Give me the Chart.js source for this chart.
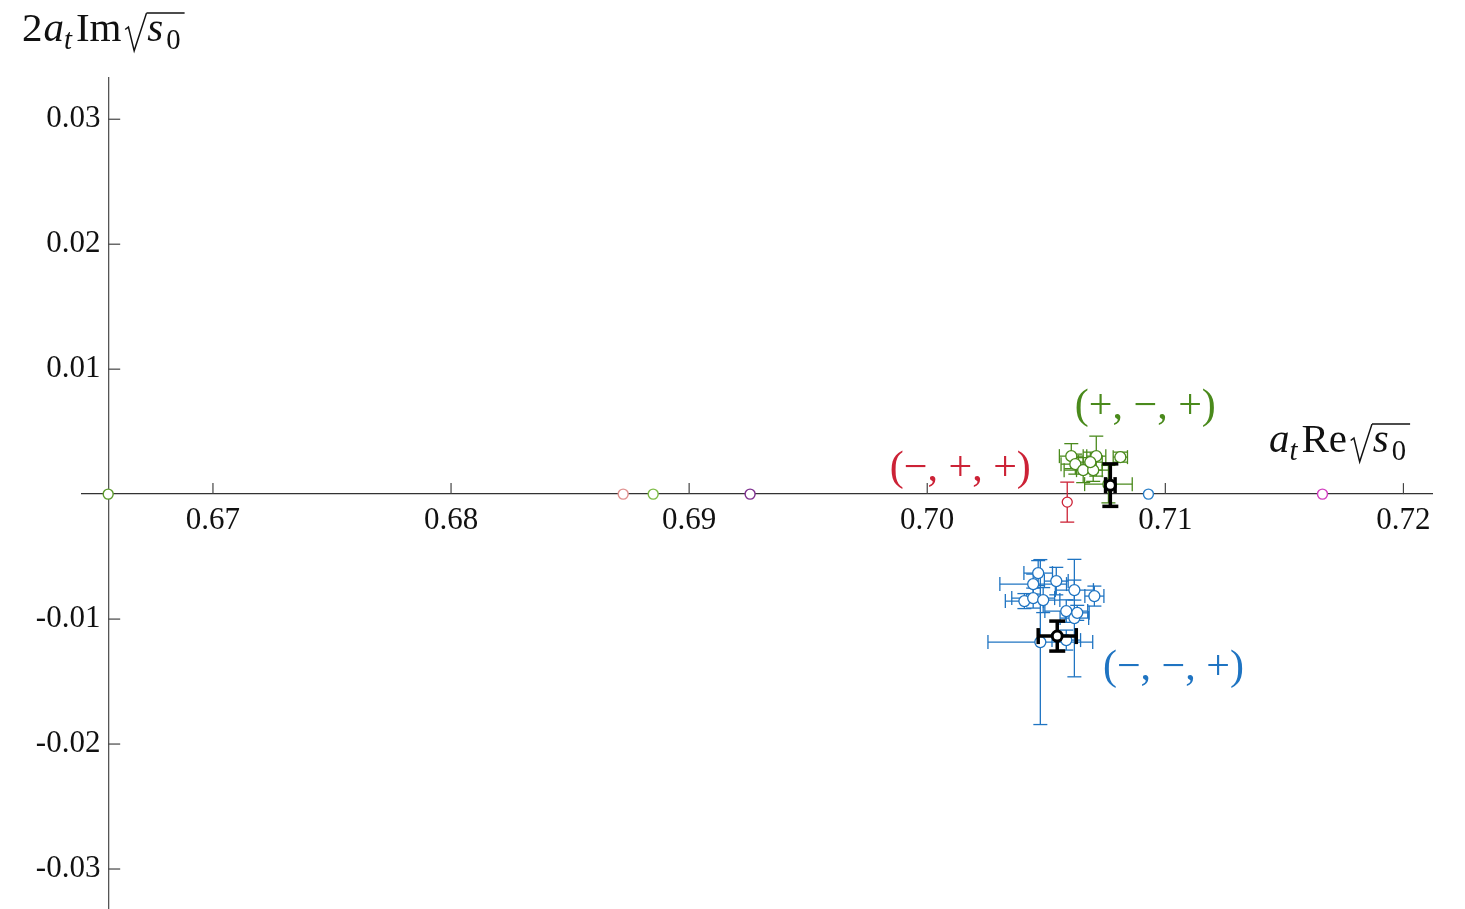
<!DOCTYPE html>
<html>
<head>
<meta charset="utf-8">
<script src="https://cdn.jsdelivr.net/npm/chart.js@4.4.1/dist/chart.umd.min.js"></script>
<style>
    html, body { margin: 0; padding: 0; background: #fff; overflow: hidden; }
    #caixa { width: 1465px; height: 909px; position: relative; }
</style>
</head>
<body>
<div id="caixa"><canvas id="grafico"></canvas></div>
<script>
const ticksX = [0.67, 0.68, 0.69, 0.70, 0.71, 0.72];
const ticksY = [-0.03, -0.02, -0.01, 0.01, 0.02, 0.03];

// (-,-,+) pontos azuis
const azulX = [0.70466, 0.70445, 0.70542, 0.70618, 0.70702, 0.70408, 0.70445, 0.70487, 0.70584, 0.70618, 0.70475, 0.70584, 0.70630];
const azulY = [-0.00632, -0.00720, -0.00696, -0.00768, -0.00816, -0.00856, -0.00832, -0.00848, -0.00936, -0.00992, -0.01184, -0.01168, -0.00950];
const azulErroX = [0.0006, 0.0014, 0.0005, 0.0008, 0.0004, 0.0008, 0.0009, 0.0007, 0.0009, 0.0006, 0.0022, 0.0006, 0.0005];
const azulErroY = [0.0010, 0.0008, 0.0011, 0.0008, 0.0008, 0.0006, 0.0008, 0.0010, 0.0009, 0.0047, 0.0066, 0.0008, 0.0006];

// (+,-,+) pontos verdes
const verdeX = [0.70605, 0.70622, 0.70655, 0.70697, 0.70710, 0.70811, 0.70685, 0.70761];
const verdeY = [0.00304, 0.00240, 0.00192, 0.00192, 0.00304, 0.00296, 0.00256, 0.00080];
const verdeErroX = [0.0005, 0.0006, 0.0008, 0.0007, 0.0004, 0.0003, 0.0005, 0.0010];
const verdeErroY = [0.0010, 0.0008, 0.0010, 0.0009, 0.0016, 0.0004, 0.0008, 0.0015];

// (-,+,+) ponto vermelho
const vermelhoX = [0.70588];
const vermelhoY = [-0.00064];
const vermelhoErroY = [0.0016];

// medias (pretos)
const mediaX = [0.70769, 0.70546];
const mediaY = [0.00072, -0.01136];
const mediaErroX = [0.0002, 0.0008];
const mediaErroY = [0.0017, 0.0012];

// pontos sobre o eixo real
const eixoX = [0.6656, 0.68723, 0.68849, 0.69256, 0.70929, 0.71660];
const eixoY = [0, 0, 0, 0, 0, 0];
const eixoCores = ['#5c9a2c', '#e0918f', '#7dbb45', '#7e2f8e', '#2a7fc8', '#d23fc0'];

const VERDE = '#4a8a1c';
const AZUL = '#1f74c2';
const VERMELHO = '#cc2236';
const FONTE = '"Liberation Serif", "Times New Roman", serif';

function pares(xs, ys) {
    return xs.map((v, i) => ({ x: v, y: ys[i] }));
}

const barrasDeErro = {
    id: 'barrasDeErro',
    beforeDatasetDraw(chart, args) {
        const ds = chart.data.datasets[args.index];
        if (!ds.erroX && !ds.erroY) return;
        const ctx = chart.ctx;
        const x = chart.scales.x, y = chart.scales.y;
        const cap = ds.tampa;
        ctx.save();
        ctx.strokeStyle = ds.corBarra;
        ctx.lineWidth = ds.larguraBarra;
        ctx.lineCap = 'butt';
        const linha = (a, b, c, d) => { ctx.beginPath(); ctx.moveTo(a, b); ctx.lineTo(c, d); ctx.stroke(); };
        ds.data.forEach((p, i) => {
            const px = x.getPixelForValue(p.x), py = y.getPixelForValue(p.y);
            const ey = ds.erroY ? ds.erroY[i] : 0;
            const ex = ds.erroX ? ds.erroX[i] : 0;
            if (ey) {
                const y1 = y.getPixelForValue(p.y + ey), y2 = y.getPixelForValue(p.y - ey);
                linha(px, y1, px, y2);
                linha(px - cap, y1, px + cap, y1);
                linha(px - cap, y2, px + cap, y2);
            }
            if (ex) {
                const x1 = x.getPixelForValue(p.x - ex), x2 = x.getPixelForValue(p.x + ex);
                linha(x1, py, x2, py);
                linha(x1, py - cap, x1, py + cap);
                linha(x2, py - cap, x2, py + cap);
            }
        });
        ctx.restore();
    }
};

function escreverFormula(ctx, partes, x, y, tam) {
    let cx = x;
    let inicioRaiz = null;
    ctx.fillStyle = '#111';
    ctx.strokeStyle = '#111';
    ctx.textBaseline = 'alphabetic';
    ctx.textAlign = 'left';
    partes.forEach(p => {
        if (p.raiz) {
            ctx.save();
            ctx.lineWidth = 1.5;
            ctx.lineJoin = 'miter';
            ctx.beginPath();
            ctx.moveTo(cx + 0.04 * tam, y - 0.28 * tam);
            ctx.lineTo(cx + 0.12 * tam, y - 0.34 * tam);
            ctx.lineTo(cx + 0.26 * tam, y + 0.24 * tam);
            ctx.lineTo(cx + 0.56 * tam, y - 0.68 * tam);
            ctx.stroke();
            ctx.restore();
            inicioRaiz = cx + 0.56 * tam;
            cx += 0.58 * tam;
            return;
        }
        const t = p.sub ? tam * 0.7 : tam;
        ctx.font = (p.it ? 'italic ' : '') + t + 'px ' + FONTE;
        const dy = p.sub ? tam * 0.2 : 0;
        cx += (p.antes || 0);
        ctx.fillText(p.t, cx, y + dy);
        cx += ctx.measureText(p.t).width + (p.esp || 0);
    });
    if (inicioRaiz !== null) {
        ctx.save();
        ctx.lineWidth = 1.5;
        ctx.beginPath();
        ctx.moveTo(inicioRaiz, y - 0.68 * tam);
        ctx.lineTo(cx + 4, y - 0.68 * tam);
        ctx.stroke();
        ctx.restore();
    }
}

const extras = {
    id: 'extras',
    beforeDatasetsDraw(chart) {
        const ctx = chart.ctx;
        const x = chart.scales.x, y = chart.scales.y;
        const x0 = x.getPixelForValue(eixoX[0]);
        const y0 = y.getPixelForValue(0);
        ctx.save();
        ctx.strokeStyle = '#444';
        ctx.lineWidth = 1.2;
        ticksX.forEach(v => {
            const px = x.getPixelForValue(v);
            ctx.beginPath(); ctx.moveTo(px, y0); ctx.lineTo(px, y0 - 11); ctx.stroke();
        });
        ticksY.forEach(v => {
            const py = y.getPixelForValue(v);
            ctx.beginPath(); ctx.moveTo(x0, py); ctx.lineTo(x0 + 12, py); ctx.stroke();
        });
        ctx.restore();
    },
    afterDraw(chart) {
        const ctx = chart.ctx;
        const x = chart.scales.x, y = chart.scales.y;
        ctx.save();
        escreverFormula(ctx, [
            { t: '2' }, { t: 'a', it: true, antes: 1 }, { t: 't', it: true, sub: true, esp: 4 },
            { t: 'Im', esp: 2 }, { raiz: true }, { t: 's', it: true }, { t: '0', sub: true, antes: 3 }
        ], 22, 41, 41);
        escreverFormula(ctx, [
            { t: 'a', it: true }, { t: 't', it: true, sub: true, esp: 4 },
            { t: 'Re', esp: 2 }, { raiz: true }, { t: 's', it: true }, { t: '0', sub: true, antes: 3 }
        ], 1269, 452, 41);

        ctx.font = '42px ' + FONTE;
        ctx.textAlign = 'center';
        ctx.textBaseline = 'middle';
        ctx.fillStyle = VERDE;
        ctx.fillText('(+, \u2212, +)', x.getPixelForValue(0.70916), y.getPixelForValue(0.00696));
        ctx.fillStyle = VERMELHO;
        ctx.fillText('(\u2212, +, +)', x.getPixelForValue(0.70139), y.getPixelForValue(0.00200));
        ctx.fillStyle = AZUL;
        ctx.fillText('(\u2212, \u2212, +)', x.getPixelForValue(0.71034), y.getPixelForValue(-0.01392));
        ctx.restore();
    }
};

function semPadding(s) {
    s.paddingTop = 0;
    s.paddingBottom = 0;
    s.paddingLeft = 0;
    s.paddingRight = 0;
}

const ctx = document.querySelector('#grafico');

const grafico = new Chart(ctx, {
    type: 'scatter',
    data: {
        datasets: [
            {
                label: 'media',
                data: pares(mediaX, mediaY),
                erroX: mediaErroX, erroY: mediaErroY,
                corBarra: '#000', larguraBarra: 3.5, tampa: 8,
                pointRadius: 5, borderWidth: 3,
                borderColor: '#000', backgroundColor: '#fff',
                order: 0
            },
            {
                label: 'vermelho',
                data: pares(vermelhoX, vermelhoY),
                erroY: vermelhoErroY,
                corBarra: VERMELHO, larguraBarra: 1.3, tampa: 7,
                pointRadius: 5, borderWidth: 1.3,
                borderColor: VERMELHO, backgroundColor: '#fff',
                order: 1
            },
            {
                label: 'verde',
                data: pares(verdeX, verdeY),
                erroX: verdeErroX, erroY: verdeErroY,
                corBarra: VERDE, larguraBarra: 1.3, tampa: 7,
                pointRadius: 5.5, borderWidth: 1.3,
                borderColor: VERDE, backgroundColor: '#fff',
                order: 1
            },
            {
                label: 'azul',
                data: pares(azulX, azulY),
                erroX: azulErroX, erroY: azulErroY,
                corBarra: AZUL, larguraBarra: 1.3, tampa: 7,
                pointRadius: 5.5, borderWidth: 1.3,
                borderColor: AZUL, backgroundColor: '#fff',
                order: 1
            },
            {
                label: 'eixo',
                data: pares(eixoX, eixoY),
                pointRadius: 5, borderWidth: 1.4,
                pointBorderColor: eixoCores, pointBackgroundColor: '#fff',
                order: 2
            }
        ]
    },
    plugins: [barrasDeErro, extras],
    options: {
        responsive: true,
        maintainAspectRatio: false,
        animation: false,
        layout: { padding: { left: 82, right: 33, top: 78, bottom: 0 } },
        plugins: {
            legend: { display: false },
            tooltip: { enabled: false }
        },
        scales: {
            x: {
                type: 'linear',
                min: 0.6645,
                max: 0.7212,
                position: { y: 0 },
                afterBuildTicks: s => { s.ticks = ticksX.map(v => ({ value: v })); },
                afterFit: semPadding,
                grid: { drawOnChartArea: false, drawTicks: false },
                border: { display: true, color: '#333', width: 1.3 },
                ticks: {
                    padding: 8,
                    color: '#111',
                    font: { family: FONTE, size: 31 },
                    callback: v => v.toFixed(2)
                }
            },
            y: {
                type: 'linear',
                min: -0.0332,
                max: 0.0333,
                position: { x: eixoX[0] },
                afterBuildTicks: s => { s.ticks = ticksY.map(v => ({ value: v })); },
                afterFit: semPadding,
                grid: { drawOnChartArea: false, drawTicks: false },
                border: { display: true, color: '#555', width: 1.3 },
                ticks: {
                    color: '#111',
                    font: { family: FONTE, size: 31 },
                    callback: v => v.toFixed(2) + ' '
                }
            }
        }
    }
});

// acerta a area do grafico para ocupar de 78 px ate o fundo da janela
const area = grafico.chartArea;
const faltaBaixo = 909 - area.bottom;
const faltaTopo = 78 - area.top;
if (Math.abs(faltaTopo) > 0.5) {
    grafico.options.layout.padding.top += faltaTopo;
}
if (faltaBaixo > 0.5) {
    document.querySelector('#caixa').style.height = (909 + faltaBaixo + faltaTopo) + 'px';
}
grafico.resize();
grafico.update();
</script>
</body>
</html>
